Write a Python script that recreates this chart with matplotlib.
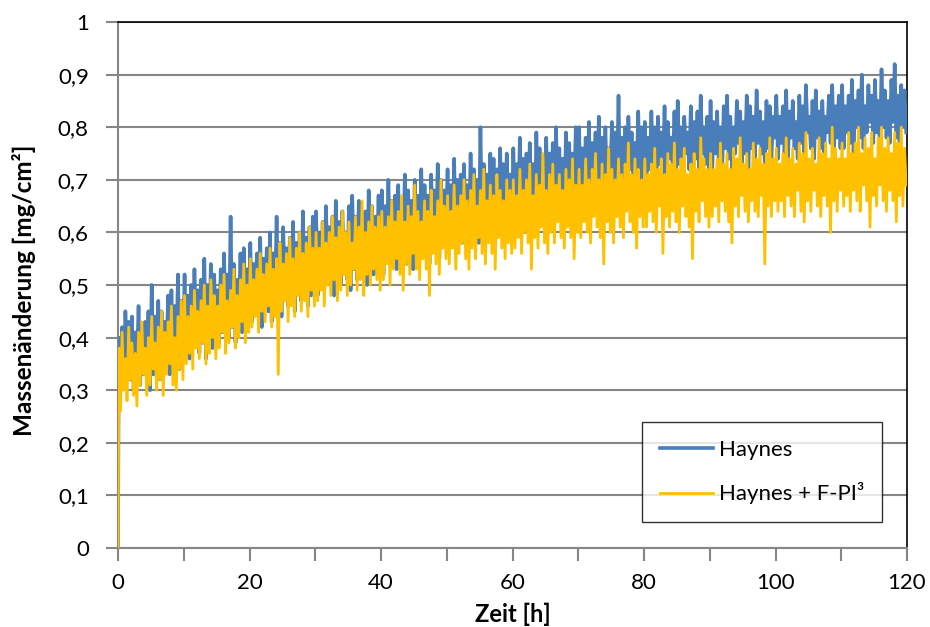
import numpy as np
import matplotlib
matplotlib.use("Agg")
import matplotlib.pyplot as plt
from matplotlib.ticker import MultipleLocator, FuncFormatter

plt.rcParams['font.family'] = ['Lato', 'DejaVu Sans']

# Messwerte abgelesen, je Stunde zwei Spitzen (hi) und zwei Täler (lo)
# hi[i] bei t = 0,5*i + 0,125 h, lo[i] bei t = 0,5*i + 0,375 h; eine Zeile = 10 h
haynes_start_t = [0.0, 0.06]
haynes_start_v = [0.0, 0.20]
haynes_hi = [
    0.40, 0.42, 0.45, 0.43, 0.44, 0.41, 0.46, 0.42, 0.43, 0.45, 0.50, 0.44, 0.47, 0.45, 0.43, 0.48, 0.49, 0.46, 0.52, 0.47,
    0.52, 0.48, 0.50, 0.53, 0.49, 0.51, 0.55, 0.50, 0.54, 0.52, 0.49, 0.53, 0.56, 0.52, 0.63, 0.54, 0.51, 0.56, 0.57, 0.53,
    0.58, 0.54, 0.56, 0.59, 0.55, 0.57, 0.60, 0.56, 0.63, 0.58, 0.61, 0.57, 0.59, 0.62, 0.58, 0.60, 0.64, 0.59, 0.61, 0.63,
    0.64, 0.60, 0.62, 0.65, 0.61, 0.63, 0.66, 0.62, 0.64, 0.60, 0.65, 0.67, 0.63, 0.66, 0.62, 0.64, 0.68, 0.65, 0.63, 0.67,
    0.68, 0.65, 0.70, 0.66, 0.67, 0.69, 0.65, 0.71, 0.68, 0.66, 0.70, 0.67, 0.72, 0.69, 0.67, 0.71, 0.68, 0.73, 0.70, 0.68,
    0.72, 0.69, 0.74, 0.70, 0.71, 0.73, 0.69, 0.75, 0.72, 0.70, 0.80, 0.73, 0.71, 0.75, 0.74, 0.72, 0.76, 0.73, 0.75, 0.71,
    0.76, 0.73, 0.78, 0.74, 0.75, 0.77, 0.73, 0.79, 0.76, 0.74, 0.78, 0.75, 0.77, 0.80, 0.76, 0.74, 0.79, 0.77, 0.75, 0.80,
    0.80, 0.76, 0.78, 0.81, 0.77, 0.79, 0.82, 0.78, 0.80, 0.76, 0.81, 0.79, 0.86, 0.78, 0.80, 0.82, 0.79, 0.77, 0.83, 0.80,
    0.81, 0.78, 0.83, 0.80, 0.82, 0.79, 0.84, 0.81, 0.78, 0.83, 0.85, 0.80, 0.82, 0.79, 0.84, 0.81, 0.83, 0.86, 0.80, 0.82,
    0.85, 0.81, 0.83, 0.80, 0.84, 0.86, 0.82, 0.80, 0.85, 0.83, 0.81, 0.86, 0.84, 0.82, 0.87, 0.83, 0.81, 0.85, 0.84, 0.82,
    0.86, 0.82, 0.84, 0.87, 0.83, 0.85, 0.81, 0.86, 0.84, 0.88, 0.82, 0.85, 0.87, 0.83, 0.85, 0.82, 0.86, 0.88, 0.84, 0.86,
    0.88, 0.84, 0.86, 0.89, 0.85, 0.87, 0.90, 0.84, 0.88, 0.86, 0.89, 0.85, 0.91, 0.87, 0.85, 0.89, 0.92, 0.86, 0.88, 0.87]
haynes_lo = [
    0.33, 0.31, 0.36, 0.32, 0.30, 0.34, 0.31, 0.33, 0.35, 0.30, 0.33, 0.36, 0.32, 0.34, 0.37, 0.33, 0.35, 0.38, 0.34, 0.36,
    0.38, 0.36, 0.39, 0.41, 0.37, 0.39, 0.36, 0.40, 0.38, 0.42, 0.39, 0.41, 0.43, 0.40, 0.42, 0.39, 0.44, 0.41, 0.43, 0.45,
    0.43, 0.46, 0.44, 0.42, 0.47, 0.45, 0.43, 0.48, 0.46, 0.44, 0.49, 0.46, 0.48, 0.45, 0.50, 0.47, 0.49, 0.46, 0.48, 0.51,
    0.48, 0.51, 0.49, 0.53, 0.50, 0.48, 0.52, 0.50, 0.54, 0.51, 0.49, 0.53, 0.51, 0.55, 0.52, 0.50, 0.54, 0.52, 0.55, 0.53,
    0.52, 0.56, 0.54, 0.57, 0.53, 0.55, 0.58, 0.54, 0.56, 0.53, 0.57, 0.55, 0.58, 0.56, 0.54, 0.59, 0.57, 0.55, 0.58, 0.60,
    0.57, 0.59, 0.56, 0.60, 0.58, 0.61, 0.57, 0.59, 0.62, 0.58, 0.60, 0.63, 0.59, 0.61, 0.58, 0.62, 0.60, 0.63, 0.61, 0.59,
    0.61, 0.64, 0.62, 0.60, 0.65, 0.63, 0.61, 0.66, 0.64, 0.62, 0.65, 0.67, 0.63, 0.66, 0.64, 0.62, 0.67, 0.65, 0.68, 0.66,
    0.65, 0.68, 0.66, 0.64, 0.69, 0.67, 0.70, 0.66, 0.68, 0.71, 0.67, 0.69, 0.66, 0.70, 0.68, 0.72, 0.69, 0.71, 0.68, 0.70,
    0.69, 0.72, 0.70, 0.68, 0.73, 0.71, 0.69, 0.74, 0.72, 0.70, 0.73, 0.71, 0.75, 0.72, 0.70, 0.74, 0.72, 0.75, 0.73, 0.71,
    0.72, 0.75, 0.73, 0.71, 0.76, 0.74, 0.72, 0.75, 0.77, 0.73, 0.75, 0.72, 0.76, 0.74, 0.77, 0.75, 0.73, 0.76, 0.74, 0.78,
    0.74, 0.77, 0.75, 0.73, 0.78, 0.76, 0.74, 0.77, 0.75, 0.79, 0.76, 0.74, 0.78, 0.76, 0.75, 0.79, 0.77, 0.75, 0.78, 0.76,
    0.76, 0.79, 0.77, 0.75, 0.80, 0.78, 0.76, 0.79, 0.81, 0.77, 0.79, 0.76, 0.80, 0.78, 0.77, 0.81, 0.78, 0.76, 0.80, 0.79]

fpi_start_t = [0.0, 0.06]
fpi_start_v = [0.0, 0.15]
fpi_hi = [
    0.38, 0.41, 0.36, 0.42, 0.39, 0.37, 0.41, 0.43, 0.38, 0.40, 0.44, 0.39, 0.42, 0.45, 0.41, 0.43, 0.46, 0.40, 0.44, 0.47,
    0.48, 0.44, 0.46, 0.49, 0.45, 0.47, 0.50, 0.46, 0.51, 0.48, 0.46, 0.50, 0.52, 0.47, 0.49, 0.53, 0.48, 0.51, 0.54, 0.50,
    0.55, 0.51, 0.53, 0.56, 0.52, 0.54, 0.57, 0.53, 0.55, 0.58, 0.54, 0.56, 0.59, 0.55, 0.57, 0.60, 0.56, 0.58, 0.61, 0.57,
    0.60, 0.57, 0.62, 0.58, 0.60, 0.63, 0.59, 0.61, 0.64, 0.60, 0.62, 0.58, 0.63, 0.61, 0.66, 0.60, 0.62, 0.65, 0.61, 0.63,
    0.64, 0.61, 0.63, 0.66, 0.62, 0.64, 0.67, 0.62, 0.65, 0.63, 0.69, 0.64, 0.62, 0.66, 0.64, 0.68, 0.63, 0.66, 0.70, 0.65,
    0.67, 0.64, 0.69, 0.65, 0.67, 0.70, 0.66, 0.68, 0.71, 0.65, 0.68, 0.72, 0.66, 0.69, 0.67, 0.71, 0.68, 0.66, 0.70, 0.68,
    0.70, 0.67, 0.72, 0.68, 0.70, 0.73, 0.67, 0.71, 0.69, 0.75, 0.68, 0.71, 0.73, 0.69, 0.71, 0.68, 0.72, 0.70, 0.74, 0.69,
    0.72, 0.69, 0.74, 0.70, 0.72, 0.75, 0.70, 0.73, 0.71, 0.76, 0.72, 0.70, 0.74, 0.71, 0.73, 0.77, 0.71, 0.74, 0.72, 0.70,
    0.74, 0.71, 0.73, 0.76, 0.72, 0.74, 0.71, 0.75, 0.73, 0.77, 0.72, 0.74, 0.76, 0.71, 0.73, 0.75, 0.72, 0.78, 0.74, 0.72,
    0.75, 0.72, 0.74, 0.77, 0.73, 0.75, 0.72, 0.76, 0.74, 0.78, 0.73, 0.75, 0.72, 0.77, 0.74, 0.76, 0.73, 0.75, 0.78, 0.74,
    0.76, 0.73, 0.75, 0.78, 0.74, 0.76, 0.73, 0.77, 0.75, 0.79, 0.74, 0.76, 0.73, 0.78, 0.75, 0.77, 0.74, 0.80, 0.76, 0.74,
    0.77, 0.74, 0.79, 0.75, 0.77, 0.80, 0.75, 0.78, 0.76, 0.79, 0.74, 0.78, 0.80, 0.76, 0.78, 0.75, 0.79, 0.77, 0.80, 0.76]
fpi_lo = [
    0.26, 0.30, 0.28, 0.32, 0.29, 0.27, 0.31, 0.33, 0.29, 0.31, 0.34, 0.30, 0.32, 0.29, 0.33, 0.35, 0.31, 0.30, 0.34, 0.32,
    0.35, 0.37, 0.34, 0.38, 0.36, 0.39, 0.35, 0.37, 0.40, 0.36, 0.38, 0.41, 0.37, 0.39, 0.42, 0.38, 0.40, 0.43, 0.39, 0.41,
    0.42, 0.44, 0.41, 0.45, 0.43, 0.46, 0.42, 0.44, 0.33, 0.45, 0.47, 0.43, 0.46, 0.44, 0.48, 0.45, 0.47, 0.44, 0.49, 0.46,
    0.47, 0.49, 0.46, 0.50, 0.48, 0.51, 0.47, 0.49, 0.52, 0.48, 0.50, 0.53, 0.49, 0.51, 0.48, 0.52, 0.50, 0.53, 0.51, 0.49,
    0.51, 0.54, 0.50, 0.53, 0.55, 0.52, 0.49, 0.54, 0.52, 0.56, 0.53, 0.51, 0.55, 0.53, 0.48, 0.56, 0.54, 0.52, 0.57, 0.55,
    0.54, 0.57, 0.53, 0.56, 0.58, 0.55, 0.53, 0.57, 0.55, 0.59, 0.56, 0.54, 0.58, 0.56, 0.53, 0.59, 0.57, 0.55, 0.58, 0.56,
    0.57, 0.59, 0.56, 0.60, 0.58, 0.53, 0.59, 0.57, 0.61, 0.58, 0.56, 0.60, 0.58, 0.62, 0.59, 0.57, 0.61, 0.59, 0.55, 0.60,
    0.59, 0.62, 0.60, 0.58, 0.63, 0.61, 0.59, 0.54, 0.62, 0.60, 0.58, 0.63, 0.61, 0.59, 0.64, 0.62, 0.60, 0.57, 0.63, 0.61,
    0.61, 0.64, 0.62, 0.60, 0.65, 0.56, 0.63, 0.61, 0.64, 0.62, 0.60, 0.65, 0.63, 0.61, 0.55, 0.64, 0.62, 0.66, 0.63, 0.61,
    0.63, 0.65, 0.62, 0.66, 0.64, 0.62, 0.58, 0.65, 0.63, 0.67, 0.64, 0.62, 0.66, 0.64, 0.63, 0.67, 0.54, 0.65, 0.63, 0.66,
    0.64, 0.66, 0.63, 0.67, 0.65, 0.63, 0.68, 0.64, 0.62, 0.66, 0.64, 0.68, 0.65, 0.63, 0.67, 0.65, 0.60, 0.66, 0.64, 0.68,
    0.65, 0.67, 0.64, 0.68, 0.66, 0.64, 0.69, 0.66, 0.61, 0.67, 0.65, 0.69, 0.66, 0.64, 0.68, 0.66, 0.62, 0.67, 0.65, 0.69]

y_ticks = [0, 0.1, 0.2, 0.3, 0.4, 0.5, 0.6, 0.7, 0.8, 0.9, 1]
x_ticks = [0, 20, 40, 60, 80, 100, 120]


def series(start_t, start_v, hi, lo):
    n = len(hi)
    base = np.arange(n) * 0.5
    t = np.empty(2 * n)
    v = np.empty(2 * n)
    t[0::2], t[1::2] = base + 0.125, base + 0.375
    v[0::2], v[1::2] = hi, lo
    return np.concatenate([start_t, t]), np.concatenate([start_v, v])


grey = '#868686'
fig = plt.figure(figsize=(9.3, 6.27), dpi=100)
ax = fig.add_axes([118 / 930, 79 / 627, 789 / 930, 526 / 627])

t1, v1 = series(haynes_start_t, haynes_start_v, haynes_hi, haynes_lo)
t2, v2 = series(fpi_start_t, fpi_start_v, fpi_hi, fpi_lo)
ax.plot(t1, v1, color='#4A7EBB', lw=2.6, label='Haynes', zorder=3)
ax.plot(t2, v2, color='#FFC000', lw=2.0, label='Haynes + F-PI³', zorder=4)

ax.set_xlim(0, 120)
ax.set_ylim(0, 1)
ax.set_xticks(x_ticks)
ax.xaxis.set_minor_locator(MultipleLocator(10))
ax.set_yticks(y_ticks)
ax.yaxis.set_major_formatter(FuncFormatter(lambda v, p: ('%g' % v).replace('.', ',')))
ax.grid(axis='y', color=grey, lw=1.5, zorder=1)
ax.set_axisbelow(True)

for s in ['left', 'bottom']:
    ax.spines[s].set_color(grey)
    ax.spines[s].set_linewidth(1.5)
for s in ['top', 'right']:
    ax.spines[s].set_color('black')
    ax.spines[s].set_linewidth(1.2)

ax.tick_params(axis='both', which='both', direction='out', color=grey, width=1.5,
               labelsize=16, labelcolor='black')
ax.tick_params(axis='y', length=9, pad=12)
ax.tick_params(axis='x', which='both', length=9, pad=9)

ax.set_xlabel('Zeit [h]', fontsize=17, fontweight='bold')
ax.set_ylabel('Massenänderung [mg/cm²]', fontsize=17.5, fontweight='bold')
ax.xaxis.set_label_coords(0.5, -0.103)
ax.yaxis.set_label_coords(-0.104, 0.49)

leg = ax.legend(loc='lower right', bbox_to_anchor=(0.968, 0.049), borderaxespad=0,
                fontsize=16, frameon=True, fancybox=False, edgecolor='black',
                handlelength=2.4, handletextpad=0.25, labelspacing=1.0,
                borderpad=0.8)
leg.get_frame().set_linewidth(1.0)
leg.set_zorder(5)

fig.savefig('out.png', dpi=100)
